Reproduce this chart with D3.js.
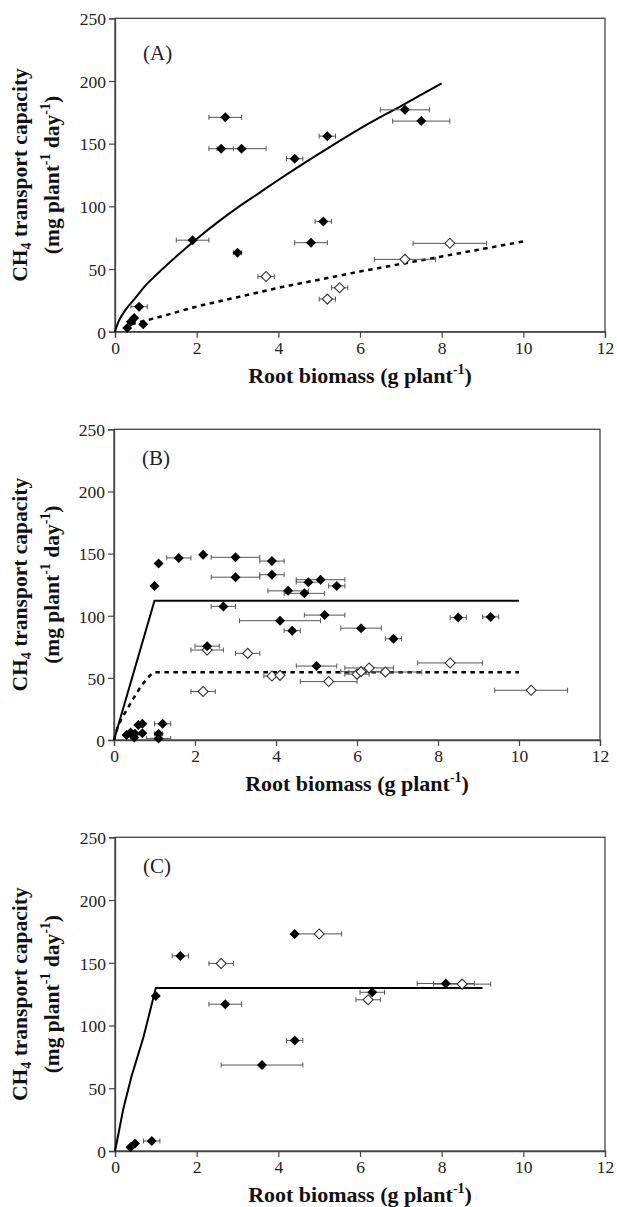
<!DOCTYPE html>
<html>
<head>
<meta charset="utf-8">
<script src="https://cdn.jsdelivr.net/npm/d3@7"></script>
<style>
  body { margin: 0; background: #fff; }
  svg text { font-family: "Liberation Serif", "Times New Roman", serif; }
</style>
</head>
<body>
<script>
// ---- data ----
var xTicks = [0, 2, 4, 6, 8, 10, 12];
var yTicks = [0, 50, 100, 150, 200, 250];
var panelNames = ["(A)", "(B)", "(C)"];

// [root biomass, CH4 transport capacity, x error]
var filledA = [
  [2.7, 171, 0.4], [2.6, 146, 0.3], [3.1, 146, 0.6], [4.4, 138, 0.2], [5.2, 156, 0.2],
  [7.1, 177, 0.6], [7.5, 168, 0.7], [5.1, 88, 0.2], [4.8, 71, 0.4], [1.9, 73, 0.4],
  [3.0, 63, 0.1], [0.59, 20, 0.2], [0.47, 11, 0], [0.39, 8, 0], [0.69, 6, 0], [0.3, 3, 0]
];
var openA = [
  [8.2, 70.5, 0.9], [7.1, 57.7, 0.75], [3.7, 44, 0.2], [5.5, 35, 0.2], [5.2, 26, 0.2]
];
var solidFitA = [
  [0, 0], [0.05, 5], [0.1, 9], [0.25, 17], [0.5, 27], [0.75, 37], [1, 45], [1.5, 60], [2, 74],
  [2.5, 87], [3, 99], [3.5, 110], [4, 121], [5, 142], [6, 162], [7, 180], [8, 198]
];
var dottedFitA = [
  [0.4, 6], [1, 11], [2, 20], [3, 27.5], [4, 35], [5, 41.5], [6, 48], [7, 54], [8, 60], [9, 66], [10, 72]
];

var filledB = [
  [1.0, 124, 0], [1.1, 142, 0.05], [1.6, 146.5, 0.3], [2.2, 149, 0], [3.0, 147, 0.6],
  [3.9, 144, 0.3], [3.0, 131, 0.6], [3.9, 133, 0.3], [4.8, 127, 0.3], [5.1, 129, 0.6],
  [5.5, 124, 0.2], [4.3, 120, 0.5], [4.7, 118, 0.5], [2.7, 107.5, 0.3], [5.2, 100.5, 0.5],
  [4.1, 96, 1.0], [4.4, 88, 0.2], [6.1, 90, 0.5], [6.9, 81.5, 0.2], [8.5, 98.5, 0.2],
  [9.3, 99, 0.2], [2.3, 75.5, 0.3], [5.0, 59.5, 0.5],
  [0.31, 4, 0], [0.41, 6, 0], [0.5, 2, 0], [0.6, 12, 0], [0.7, 13, 0], [0.7, 5.5, 0],
  [1.1, 5, 0.1], [1.1, 1.3, 0.3], [1.2, 13, 0.2], [0.52, 5, 0]
];
var openB = [
  [2.3, 72.4, 0.4], [3.3, 69.7, 0.3], [2.2, 39, 0.3], [8.3, 62, 0.8], [6.3, 58, 0.6],
  [3.9, 51.5, 0.2], [4.1, 52, 0], [5.3, 47, 0.7], [6.0, 53, 0.3], [6.1, 55, 0.5],
  [6.7, 54.7, 0.9], [10.3, 40, 0.9]
];
var solidFitB = [[0, 0], [1, 112], [10, 112]];
var dottedFitB = [
  [0, 0], [0.08, 9.5], [0.2, 18], [0.31, 24], [0.48, 33.5], [0.68, 44], [0.89, 52], [1, 54.5], [10, 54.5]
];

var filledC = [
  [4.4, 173, 0], [1.6, 155.5, 0.2], [1.0, 123.5, 0], [2.7, 117, 0.4], [6.3, 126.5, 0.3],
  [8.1, 133.5, 0.7], [4.4, 88, 0.2], [3.6, 68.5, 1.0], [0.38, 3, 0], [0.49, 6, 0], [0.9, 8, 0.2]
];
var openC = [
  [5.0, 173, 0.55], [2.6, 149.5, 0.3], [6.2, 120.5, 0.3], [8.5, 133, 0.7]
];
var solidFitC = [
  [0, 0], [0.08, 13], [0.2, 33], [0.4, 59], [0.7, 91], [1, 130], [9, 130]
];

var panelsData = [
  { name: panelNames[0], filled: filledA, open: openA, solid: solidFitA, dotted: dottedFitA },
  { name: panelNames[1], filled: filledB, open: openB, solid: solidFitB, dotted: dottedFitB },
  { name: panelNames[2], filled: filledC, open: openC, solid: solidFitC, dotted: null }
];

function drawFigure() {

  var svgWidth = 617;
  var svgHeight = 1207;

  // frame position of each panel on the page
  var frames = [
    { left: 115, right: 605, top: 18.3, bottom: 331.7, labelDy: 42, smooth: true },
    { left: 114, right: 600, top: 429.3, bottom: 740, labelDy: 36, smooth: false },
    { left: 115, right: 605, top: 837.3, bottom: 1151, labelDy: 36, smooth: false }
  ];

  var axisColor = "#444";

  var svg = d3.select("body")
    .append("svg")
    .attr("width", svgWidth)
    .attr("height", svgHeight);

  panelsData.forEach(function (p, i) {
    var f = frames[i];
    var width = f.right - f.left;
    var height = f.bottom - f.top;

    var g = svg.append("g")
      .attr("transform", `translate(${f.left}, ${f.top})`);

    var xScale = d3.scaleLinear().domain([0, 12]).range([0, width]);
    var yScale = d3.scaleLinear().domain([0, 250]).range([height, 0]);

    // box
    g.append("rect")
      .attr("width", width)
      .attr("height", height)
      .attr("fill", "none")
      .attr("stroke", axisColor)
      .attr("stroke-width", 1.3);

    var bottomAxis = d3.axisBottom(xScale).tickValues(xTicks).tickSize(6).tickPadding(4);
    var leftAxis = d3.axisLeft(yScale).tickValues(yTicks).tickSize(6).tickPadding(3);

    var xg = g.append("g")
      .attr("transform", `translate(0, ${height})`)
      .call(bottomAxis);
    var yg = g.append("g").call(leftAxis);

    [xg, yg].forEach(function (a) {
      a.select(".domain").attr("stroke", axisColor).attr("stroke-width", 1.3);
      a.selectAll(".tick line").attr("stroke", axisColor).attr("stroke-width", 1.2);
      a.selectAll(".tick text")
        .attr("fill", "#222")
        .style("font-size", "17.5px")
        .style("font-family", "'Liberation Serif', serif");
    });
    yg.selectAll(".tick text").attr("dy", "0.36em");

    // panel letter
    g.append("text")
      .attr("x", 28)
      .attr("y", f.labelDy)
      .attr("font-size", 21)
      .attr("fill", "#222")
      .text(p.name);

    // fitted lines
    var line = d3.line()
      .x(d => xScale(d[0]))
      .y(d => yScale(d[1]))
      .curve(f.smooth ? d3.curveMonotoneX : d3.curveLinear);

    g.append("path")
      .attr("d", line(p.solid))
      .attr("fill", "none")
      .attr("stroke", "#000")
      .attr("stroke-width", 2);

    if (p.dotted) {
      g.append("path")
        .attr("d", line(p.dotted))
        .attr("fill", "none")
        .attr("stroke", "#000")
        .attr("stroke-width", 2.5)
        .attr("stroke-dasharray", "4.5,4.5");
    }

    // error bars (horizontal)
    var allPts = p.filled.concat(p.open).filter(d => d[2] > 0);
    var eb = g.selectAll(".err")
      .data(allPts)
      .enter()
      .append("g")
      .attr("class", "err")
      .attr("stroke", "#555")
      .attr("stroke-width", 1);

    eb.append("line")
      .attr("x1", d => xScale(d[0] - d[2]))
      .attr("x2", d => xScale(d[0] + d[2]))
      .attr("y1", d => yScale(d[1]))
      .attr("y2", d => yScale(d[1]));
    eb.append("line")
      .attr("x1", d => xScale(d[0] - d[2]))
      .attr("x2", d => xScale(d[0] - d[2]))
      .attr("y1", d => yScale(d[1]) - 2.5)
      .attr("y2", d => yScale(d[1]) + 2.5);
    eb.append("line")
      .attr("x1", d => xScale(d[0] + d[2]))
      .attr("x2", d => xScale(d[0] + d[2]))
      .attr("y1", d => yScale(d[1]) - 2.5)
      .attr("y2", d => yScale(d[1]) + 2.5);

    // diamonds
    var diamond = d3.symbol().type(d3.symbolSquare).size(50);

    g.selectAll(".open")
      .data(p.open)
      .enter()
      .append("path")
      .attr("class", "open")
      .attr("d", diamond)
      .attr("transform", d => `translate(${xScale(d[0])}, ${yScale(d[1])}) rotate(45)`)
      .attr("fill", "#fff")
      .attr("stroke", "#333")
      .attr("stroke-width", 1.1);

    g.selectAll(".filled")
      .data(p.filled)
      .enter()
      .append("path")
      .attr("class", "filled")
      .attr("d", diamond)
      .attr("transform", d => `translate(${xScale(d[0])}, ${yScale(d[1])}) rotate(45)`)
      .attr("fill", "#000");

    // x axis title
    var xt = g.append("text")
      .attr("x", width / 2)
      .attr("y", height + 51)
      .attr("text-anchor", "middle")
      .attr("font-size", 22)
      .attr("font-weight", "bold")
      .attr("fill", "#111");
    xt.append("tspan").text("Root biomass (g plant");
    xt.append("tspan").attr("font-size", 14).attr("dy", -9).text("-1");
    xt.append("tspan").attr("dy", 9).text(")");

    // y axis title, two lines
    var cy = f.top + height / 2;
    var yt1 = svg.append("text")
      .attr("transform", `translate(27, ${cy}) rotate(-90)`)
      .attr("text-anchor", "middle")
      .attr("font-size", 21.5)
      .attr("font-weight", "bold")
      .attr("fill", "#111");
    yt1.append("tspan").text("CH");
    yt1.append("tspan").attr("font-size", 14).attr("dy", 4).text("4");
    yt1.append("tspan").attr("dy", -4).text(" transport capacity");

    var yt2 = svg.append("text")
      .attr("transform", `translate(59, ${cy}) rotate(-90)`)
      .attr("text-anchor", "middle")
      .attr("font-size", 21.5)
      .attr("font-weight", "bold")
      .attr("fill", "#111");
    yt2.append("tspan").text("(mg plant");
    yt2.append("tspan").attr("font-size", 14).attr("dy", -9).text("-1");
    yt2.append("tspan").attr("dy", 9).text(" day");
    yt2.append("tspan").attr("font-size", 14).attr("dy", -9).text("-1");
    yt2.append("tspan").attr("dy", 9).text(")");
  });
}

drawFigure();
</script>
</body>
</html>
